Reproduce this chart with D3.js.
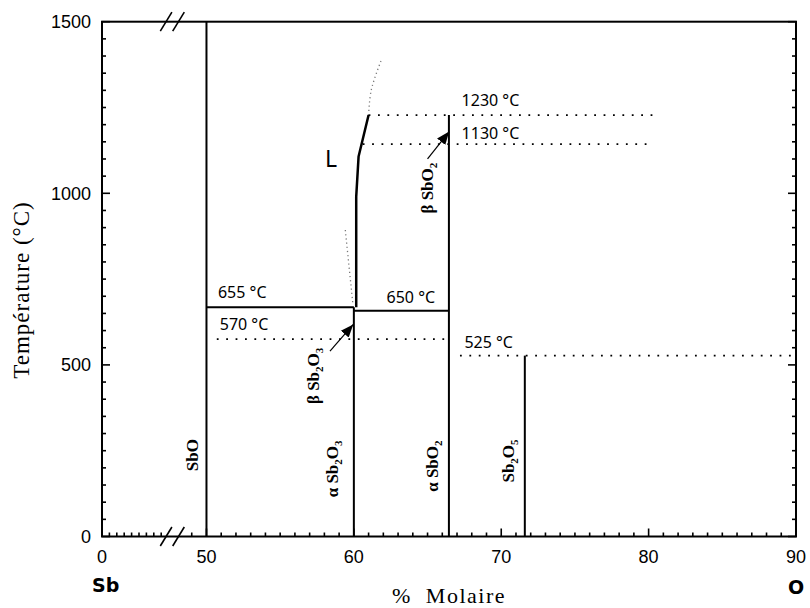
<!DOCTYPE html>
<meta charset="utf-8">
<head>
  <title>Diagramme Sb-O</title>
  <script src="https://d3js.org/d3.v7.min.js"></script>
  <style>
    body { margin: 0; background: white; }
    svg { display: block; }
  </style>
</head>
<body>
  <div id="my_dataviz"></div>
  <script>
    // axis ticks
    var xTickLabels = [0, 50, 60, 70, 80, 90];
    var xMinorLeft = [1, 2, 3, 4, 5, 6, 7, 8];
    var xMinorRight = d3.range(49, 90);
    var yTickLabels = [0, 500, 1000, 1500];
    var yMinor = d3.range(0, 1501, 50);

    // compounds: vertical lines (x = % molaire O, top = temperature)
    var phaseX = [50, 60, 66.45, 71.6];
    var phaseTop = [1500, 668, 1228, 527];

    // solid horizontal invariants
    var solidX1 = [50, 60];
    var solidX2 = [60, 66.45];
    var solidT = [668, 658];

    // dotted horizontal lines
    var dotX1 = [50.7, 67.2, 61.0, 60.6];
    var dotX2 = [66.4, 90, 80.3, 79.9];
    var dotT = [575, 527, 1228, 1143];

    // liquidus
    var liqX = [60.16, 60.16, 60.32, 61.0];
    var liqT = [668, 990, 1107, 1228];
    var liqUpX = [61.0, 61.18, 61.86];
    var liqUpT = [1228, 1301, 1388];
    var liqLowX = [59.42, 59.94];
    var liqLowT = [893, 675];

    // temperature labels
    var tempLabels = ["655 °C", "570 °C", "650 °C", "525 °C", "1230 °C", "1130 °C"];
    var tempLabelX = [50.78, 50.9, 62.22, 67.5, 67.31, 67.31];
    var tempLabelT = [695, 602, 680, 549, 1253, 1158];

    // liquid region label
    var regionLabel = "L";
    var regionX = 58.04;
    var regionT = 1077;

    // phase names (rotated)
    var phaseNames = ["SbO", "β Sb_2O_3", "α Sb_2O_3", "β SbO_2", "α SbO_2", "Sb_2O_5"];
    var phaseNameX = [49.45, 57.63, 58.92, 65.36, 65.70, 70.86];
    var phaseNameT = [237, 468, 197, 1015, 205, 220];

    // arrows
    var arrowX1 = [58.38, 65.0];
    var arrowT1 = [540, 1100];
    var arrowX2 = [59.96, 66.47];
    var arrowT2 = [618, 1180];

    var width = 810, height = 608;

    var svg = d3.select("#my_dataviz")
      .append("svg")
      .attr("width", width)
      .attr("height", height);

    svg.append("defs").append("marker")
      .attr("id", "head")
      .attr("viewBox", "0 0 10 10")
      .attr("refX", 10).attr("refY", 5)
      .attr("markerWidth", 13).attr("markerHeight", 13)
      .attr("markerUnits", "userSpaceOnUse")
      .attr("orient", "auto")
      .append("path")
      .attr("d", "M0,1 L10,5 L0,9 Z")
      .attr("fill", "black");

    // broken x axis: 0..10 compressed, then 48..90
    var x = d3.scaleLinear()
      .domain([0, 10, 48, 90])
      .range([102, 176, 177, 796]);

    var y = d3.scaleLinear()
      .domain([0, 1500])
      .range([536.5, 21.7]);

    var frame = svg.append("g");

    // ticks (inward)
    var xMinor = xMinorLeft.concat(xMinorRight).filter(d => xTickLabels.indexOf(d) < 0);
    frame.selectAll(".xminor")
      .data(xMinor).enter().append("line")
      .attr("x1", d => x(d)).attr("x2", d => x(d))
      .attr("y1", y(0)).attr("y2", y(0) - 4)
      .attr("stroke", "black").attr("stroke-width", 1.6);
    frame.selectAll(".xmajor")
      .data(xTickLabels).enter().append("line")
      .attr("x1", d => x(d)).attr("x2", d => x(d))
      .attr("y1", y(0)).attr("y2", y(0) - 8)
      .attr("stroke", "black").attr("stroke-width", 1.6);

    [x(0), x(90)].forEach(function (xx, i) {
      var dir = i === 0 ? 1 : -1;
      frame.selectAll(".yt" + i)
        .data(yMinor).enter().append("line")
        .attr("x1", xx).attr("x2", d => xx + dir * (d % 500 === 0 ? 8 : 4))
        .attr("y1", d => y(d)).attr("y2", d => y(d))
        .attr("stroke", "black").attr("stroke-width", 1.6);
    });

    frame.append("rect")
      .attr("x", x(0)).attr("y", y(1500))
      .attr("width", x(90) - x(0)).attr("height", y(0) - y(1500))
      .attr("fill", "none").attr("stroke", "black").attr("stroke-width", 2);

    // break marks on top and bottom axes
    var bx = x(9.5);
    [y(0), y(1500)].forEach(function (yy) {
      [-6.2, 6.2].forEach(function (off) {
        frame.append("line")
          .attr("x1", bx + off - 5.8).attr("y1", yy + 9.5)
          .attr("x2", bx + off + 5.8).attr("y2", yy - 9.5)
          .attr("stroke", "black").attr("stroke-width", 1.6);
      });
    });

    // tick labels
    frame.selectAll(".xlab")
      .data(xTickLabels).enter().append("text")
      .attr("x", d => x(d)).attr("y", 563)
      .attr("text-anchor", "middle")
      .style("font-family", "Liberation Sans, Arial, sans-serif")
      .style("font-size", "18px")
      .text(d => d);
    frame.selectAll(".ylab")
      .data(yTickLabels).enter().append("text")
      .attr("x", 91).attr("y", d => y(d) + 6.5)
      .attr("text-anchor", "end")
      .style("font-family", "Liberation Sans, Arial, sans-serif")
      .style("font-size", "18px")
      .text(d => d);

    // axis titles
    svg.append("text")
      .attr("x", 449).attr("y", 603)
      .attr("text-anchor", "middle")
      .style("font-family", "Liberation Serif, Times New Roman, serif")
      .style("font-size", "22px")
      .style("letter-spacing", "1.5px")
      .attr("xml:space", "preserve")
      .text("%  Molaire");
    svg.append("text")
      .attr("transform", "translate(29,290) rotate(-90)")
      .attr("text-anchor", "middle")
      .style("font-family", "Liberation Serif, Times New Roman, serif")
      .style("font-size", "23px")
      .style("letter-spacing", "1px")
      .text("Température (°C)");
    svg.append("text")
      .attr("x", 92).attr("y", 592)
      .style("font-family", "DejaVu Sans, Verdana, sans-serif")
      .style("font-weight", "bold")
      .style("font-size", "19px")
      .text("Sb");
    svg.append("text")
      .attr("x", 796).attr("y", 594)
      .attr("text-anchor", "middle")
      .style("font-family", "DejaVu Sans, Verdana, sans-serif")
      .style("font-weight", "bold")
      .style("font-size", "19px")
      .text("O");

    var plot = svg.append("g");

    // compound lines
    plot.selectAll(".phase")
      .data(phaseX).enter().append("line")
      .attr("x1", d => x(d)).attr("x2", d => x(d))
      .attr("y1", y(0)).attr("y2", (d, i) => y(phaseTop[i]))
      .attr("stroke", "black").attr("stroke-width", 2);

    plot.selectAll(".solid")
      .data(solidT).enter().append("line")
      .attr("x1", (d, i) => x(solidX1[i])).attr("x2", (d, i) => x(solidX2[i]))
      .attr("y1", d => y(d)).attr("y2", d => y(d))
      .attr("stroke", "black").attr("stroke-width", 2);

    plot.selectAll(".dotted")
      .data(dotT).enter().append("line")
      .attr("x1", (d, i) => x(dotX1[i])).attr("x2", (d, i) => x(dotX2[i]))
      .attr("y1", d => y(d)).attr("y2", d => y(d))
      .attr("stroke", "black").attr("stroke-width", 1.8)
      .attr("stroke-dasharray", "1.8,7.6");

    var line = d3.line().x(d => x(d[0])).y(d => y(d[1]));
    plot.append("path")
      .attr("d", line(d3.zip(liqX, liqT)))
      .attr("fill", "none").attr("stroke", "black").attr("stroke-width", 2.5);
    plot.append("path")
      .attr("d", line.curve(d3.curveCatmullRom)(d3.zip(liqUpX, liqUpT)))
      .attr("fill", "none").attr("stroke", "#777").attr("stroke-width", 1.3)
      .attr("stroke-dasharray", "1.2,3");
    plot.append("path")
      .attr("d", d3.line().x(d => x(d[0])).y(d => y(d[1]))(d3.zip(liqLowX, liqLowT)))
      .attr("fill", "none").attr("stroke", "#777").attr("stroke-width", 1.3)
      .attr("stroke-dasharray", "1.2,3");

    // arrows
    plot.selectAll(".arrow")
      .data(arrowX1).enter().append("line")
      .attr("x1", d => x(d)).attr("y1", (d, i) => y(arrowT1[i]))
      .attr("x2", (d, i) => x(arrowX2[i])).attr("y2", (d, i) => y(arrowT2[i]))
      .attr("stroke", "black").attr("stroke-width", 1.2)
      .attr("marker-end", "url(#head)");

    // temperature labels
    plot.selectAll(".tlab")
      .data(tempLabels).enter().append("text")
      .attr("x", (d, i) => x(tempLabelX[i])).attr("y", (d, i) => y(tempLabelT[i]))
      .style("font-family", "Noto Sans, sans-serif")
      .style("font-size", "16px")
      .text(d => d);

    plot.append("text")
      .attr("x", x(regionX)).attr("y", y(regionT))
      .style("font-family", "Noto Sans, sans-serif")
      .style("font-size", "23px")
      .text(regionLabel);

    // rotated compound names with subscripts
    plot.selectAll(".pname")
      .data(phaseNames).enter().append("text")
      .attr("transform", (d, i) => "translate(" + x(phaseNameX[i]) + "," + y(phaseNameT[i]) + ") rotate(-90)")
      .attr("text-anchor", "middle")
      .style("font-family", "Liberation Serif, Times New Roman, serif")
      .style("font-weight", "bold")
      .style("font-size", "17px")
      .each(function (d) {
        var t = d3.select(this);
        var parts = d.split(/(_\d)/).filter(s => s.length);
        var sub = false;
        parts.forEach(function (p) {
          if (p[0] === "_") {
            t.append("tspan").attr("dy", 4).style("font-size", "11px").text(p.slice(1));
            sub = true;
          } else {
            t.append("tspan").attr("dy", sub ? -4 : 0).text(p);
            sub = false;
          }
        });
      });
  </script>
</body>
</html>
